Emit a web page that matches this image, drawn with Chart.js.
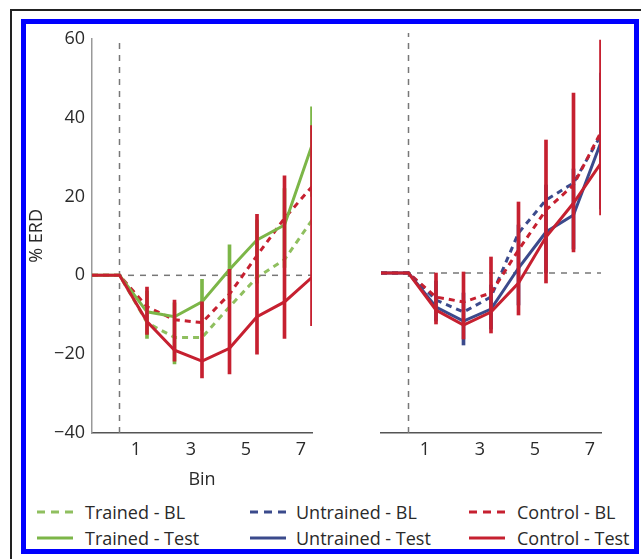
<!DOCTYPE html>
<html>
<head>
<meta charset="utf-8">
<script src="https://cdn.jsdelivr.net/npm/chart.js@4.4.1/dist/chart.umd.min.js"></script>
<style>
  html, body { margin: 0; padding: 0; background: #fff; }
  body { width: 641px; height: 559px; position: relative; overflow: hidden; font-family: "Open Sans", sans-serif; }
  .black-top { position: absolute; left: 10px; top: 9px; width: 640px; height: 2px; background: #222; }
  .black-left { position: absolute; left: 10px; top: 9px; width: 2px; height: 560px; background: #222; }
  .frame { position: absolute; left: 21px; top: 19px; width: 618px; height: 535px; border: 5px solid #0000fe; box-sizing: border-box; }
  canvas { position: absolute; }
  .leg { position: absolute; height: 24px; display: flex; align-items: center; font-size: 18px; color: #2a2a2a; white-space: nowrap; }
  .leg svg { display: block; }
</style>
</head>
<body>
<div class="black-top"></div>
<div class="black-left"></div>
<div class="frame"></div>
<canvas id="left" style="left:26px; top:21px; width:300px; height:470px;" width="300" height="470"></canvas>
<canvas id="right" style="left:366px; top:21px; width:260px; height:470px;" width="260" height="470"></canvas>
<div id="legend"></div>
<script>
// bin positions (x = 0 is the dashed onset line)
const binX = [-1, 0, 1, 2, 3, 4, 5, 6, 7];
const errBins = [1, 2, 3, 4, 5, 6, 7];
const binTickPositions = [0.6, 2.6, 4.6, 6.6];
const binTickLabels = ["1", "3", "5", "7"];
const yTicks = [60, 40, 20, 0, -20, -40];

// left panel
const trainedBL = [0, 0, -12, -15.75, -15.75, -8, -0.5, 4, 14];
const trainedTest = [0, 0, -9.25, -10.5, -6.75, 1.5, 9, 12.75, 33];
const controlBLLeft = [0, 0, -8, -11.25, -12, -4.75, 5, 14.5, 22.5];
const controlTestLeft = [0, 0, -11.75, -19, -21.75, -18.5, -10.5, -6.75, -0.5];
const controlErrLeft = [[-15, -3], [-21.75, -6.25], [-26, -6.75], [-25, 1.5], [-20, 15.5], [-16, 25.25], [-12.75, 38]];
const trainedErr = [[-16, -4], [-22.5, -7], [-14, -1], [-6, 7.75], [-2, 14], [2, 22], [20, 42.75]];

// right panel
const untrainedBL = [0, 0, -6.75, -9.75, -6, 10, 18.25, 22.5, 34.5];
const untrainedTest = [0, 0, -8.5, -12, -9, 1.25, 10.25, 14.5, 32.75];
const controlBLRight = [0, 0, -6, -7.25, -5, 5.75, 15.75, 22, 35.25];
const controlTestRight = [0, 0, -9.25, -13, -9.75, -2.5, 9, 17.5, 27.5];
const controlErrRight = [[-12.75, 0], [-16.5, 0.25], [-15, 4], [-10.5, 17.75], [-2.5, 33.25], [5.25, 45], [14.5, 58.25]];
const untrainedErr = [[-12, -2], [-18, -5], [-14, -3], [-8, 12], [0, 22], [6, 26], [16, 50]];

const GREEN = "#7cb648";
const GREEN_D = "#8fbf5f";
const BLUE = "#3b4a8c";
const RED = "#c62030";
const GREY = "#777";
const TEXT = "#2a2a2a";
const FONT = { family: "'Open Sans', sans-serif", size: 18 };

const xMin = -1, xMax = 7, yMin = -40, yMax = 60;

function line(values, color, dashed, order) {
    return {
        type: "line",
        data: binX.map((x, i) => ({ x: x, y: values[i] })),
        borderColor: color,
        borderWidth: 3,
        borderDash: dashed ? [6, 5] : [],
        pointRadius: 0,
        tension: 0,
        order: order,
    };
}

function errBars(ranges, color, order) {
    return {
        type: "bar",
        data: errBins.map((x, i) => ({ x: x, y: ranges[i] })),
        backgroundColor: color,
        borderWidth: 0,
        barThickness: 3,
        grouped: false,
        order: order,
    };
}

function refLines() {
    return [
        {
            type: "line",
            data: [{ x: 0, y: yMin }, { x: 0, y: yMax }],
            borderColor: GREY, borderWidth: 1.5, borderDash: [6, 6], pointRadius: 0, order: 20,
        },
        {
            type: "line",
            data: [{ x: xMin, y: 0 }, { x: xMax, y: 0 }],
            borderColor: GREY, borderWidth: 1.5, borderDash: [6, 6], pointRadius: 0, order: 20,
        },
    ];
}

function makeScales(showY) {
    return {
        x: {
            type: "linear",
            min: xMin,
            max: xMax,
            offset: false,
            grid: { display: false, drawTicks: false },
            border: { display: true, color: "#555", width: 1.5 },
            afterBuildTicks: (scale) => { scale.ticks = binTickPositions.map(v => ({ value: v })); },
            afterFit: (scale) => { scale.height = 58; },
            ticks: {
                padding: 6,
                color: TEXT,
                font: FONT,
                maxRotation: 0,
                callback: (v, i) => binTickLabels[i],
            },
            title: {
                display: showY,
                text: "Bin",
                color: TEXT,
                font: FONT,
                padding: { top: 0, bottom: 0 },
            },
        },
        y: {
            display: showY,
            min: yMin,
            max: yMax,
            grid: { display: false, drawTicks: false },
            border: { display: true, color: "#999", width: 1.5 },
            afterBuildTicks: (scale) => { scale.ticks = yTicks.map(v => ({ value: v })); },
            afterFit: (scale) => { scale.width = showY ? 66 : 0; },
            ticks: {
                padding: 7,
                color: TEXT,
                font: FONT,
                callback: (v) => (v < 0 ? "\u2212" + Math.abs(v) : String(v)),
            },
            title: {
                display: true,
                text: "% ERD",
                color: TEXT,
                font: FONT,
                padding: { top: 0, bottom: 0 },
            },
        },
    };
}

function makeChart(id, datasets, showY, padding) {
    return new Chart(document.getElementById(id).getContext("2d"), {
        type: "line",
        data: { datasets: datasets },
        options: {
            responsive: false,
            animation: false,
            events: [],
            layout: { padding: padding },
            plugins: { legend: { display: false }, tooltip: { enabled: false } },
            scales: makeScales(showY),
        },
    });
}

makeChart("left", [
    ...refLines(),
    errBars(trainedErr, GREEN, 12),
    line(trainedBL, GREEN_D, true, 9),
    line(controlBLLeft, RED, true, 8),
    line(trainedTest, GREEN, false, 7),
    line(controlTestLeft, RED, false, 6),
    errBars(controlErrLeft, RED, 1),
], true, { top: 12, right: 14, left: 0, bottom: 0 });

makeChart("right", [
    ...refLines(),
    errBars(untrainedErr, BLUE, 12),
    line(untrainedBL, BLUE, true, 9),
    line(controlBLRight, RED, true, 8),
    line(untrainedTest, BLUE, false, 7),
    line(controlTestRight, RED, false, 6),
    errBars(controlErrRight, RED, 1),
], false, { top: 12, right: 25, left: 15, bottom: 0 });

// legend: 3 columns x 2 rows
const legendLabels = ["Trained - BL", "Trained - Test", "Untrained - BL", "Untrained - Test", "Control - BL", "Control - Test"];
const legendColors = [GREEN_D, GREEN, BLUE, BLUE, RED, RED];
const legendDashed = [true, false, true, false, true, false];
const legendCols = [37, 250, 469];
const legendRows = [512, 538];
const legendTextGap = [12, 10, 12];

const legend = document.getElementById("legend");
legendLabels.forEach((label, i) => {
    const col = Math.floor(i / 2), row = i % 2;
    const item = document.createElement("div");
    item.className = "leg";
    item.style.left = legendCols[col] + "px";
    item.style.top = (legendRows[row] - 12) + "px";
    const dash = legendDashed[i] ? 'stroke-dasharray="8 6"' : "";
    item.innerHTML =
        '<svg width="36" height="6"><line x1="0" y1="3" x2="36" y2="3" stroke="' + legendColors[i] +
        '" stroke-width="3" ' + dash + '/></svg>' +
        '<span style="margin-left:' + legendTextGap[col] + 'px">' + label + "</span>";
    legend.appendChild(item);
});
</script>
</body>
</html>
